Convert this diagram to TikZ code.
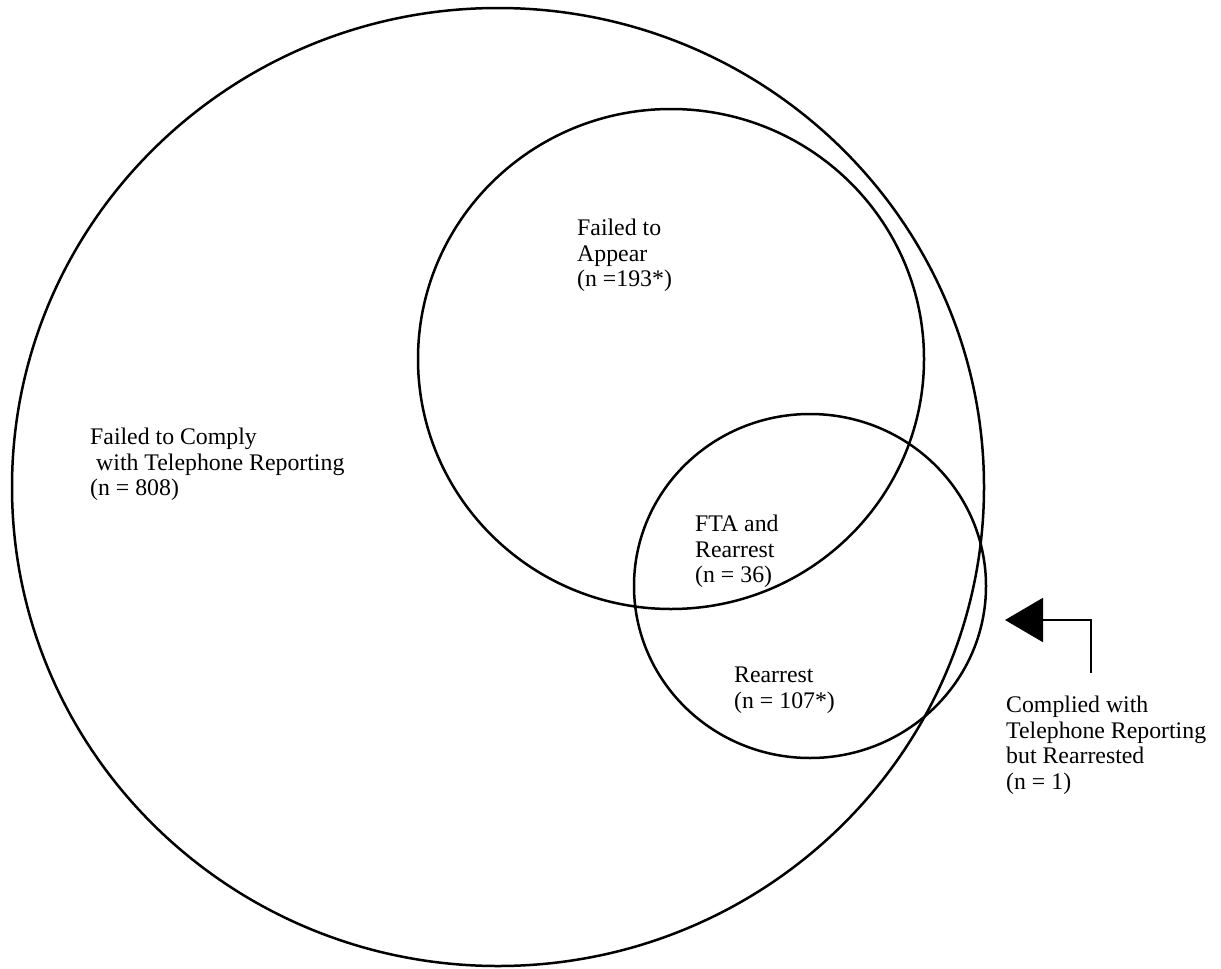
\documentclass[tikz,border=0pt]{standalone}
\usepackage{fontspec}
\setmainfont{Liberation Serif}
\usetikzlibrary{arrows.meta}
\tikzset{
  venn/.style={draw=black, line width=2.5pt},
  lbl/.style={align=left, anchor=north west, inner sep=0pt, font=\fontsize{23.8pt}{25.5pt}\selectfont},
  pointer/.style={draw=black, line width=2pt, -{Triangle[length=38pt,width=44pt]}}
}
\begin{document}
\begin{tikzpicture}[x=1pt,y=-1pt]
\useasboundingbox (0,0) rectangle (1221,969);
% circles
\draw[venn] (498,487) ellipse [x radius=486, y radius=479];
\draw[venn] (671,359) ellipse [x radius=253, y radius=250];
\draw[venn] (810,586) ellipse [x radius=176, y radius=172];
% labels
\node[lbl] (comply) at (90,428) {Failed to Comply\\\hspace*{6pt}with Telephone Reporting\\(n = 808)};
\node[lbl] (fta) at (577,219) {Failed to\\Appear\\(n =193*)};
\node[lbl] (both) at (695,515) {FTA and\\Rearrest\\(n = 36)};
\node[lbl] (rearrest) at (734,667) {Rearrest\\(n = 107*)};
\node[lbl] (complied) at (1006,696) {Complied with\\Telephone Reporting\\but Rearrested\\(n = 1)};
% pointer
\coordinate (armstart) at (1091,673);
\coordinate (tip) at (1005,620);
\draw[pointer] (armstart) |- (tip);
\end{tikzpicture}
\end{document}
